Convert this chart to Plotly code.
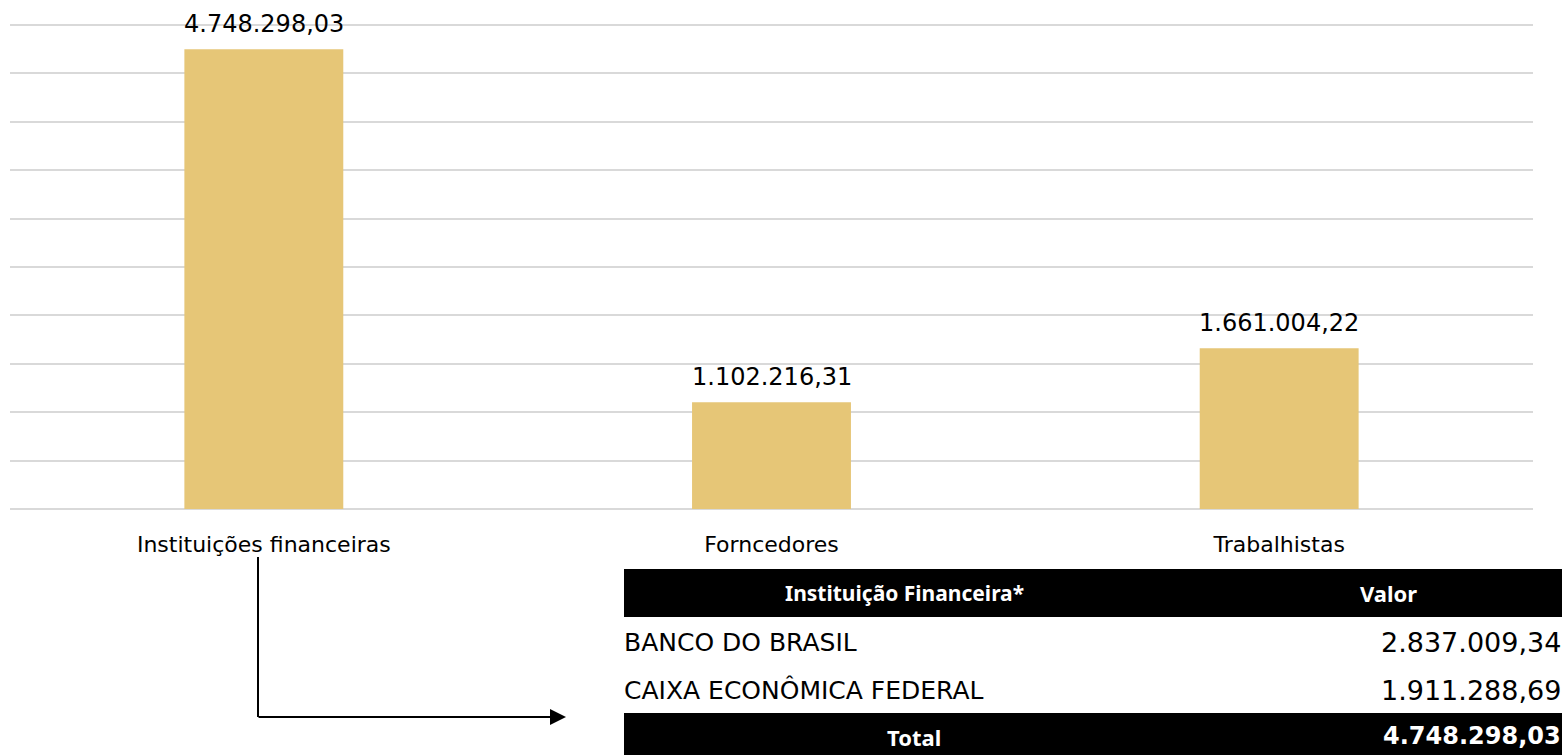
import plotly.graph_objects as go

# ---- data ----
categories = ["Instituições financeiras", "Forncedores", "Trabalhistas"]
values = [4748298.03, 1102216.31, 1661004.22]

table_header = ["Instituição Financeira*", "Valor"]
table_names = ["BANCO DO BRASIL", "CAIXA ECONÔMICA FEDERAL"]
table_values = [2837009.34, 1911288.69]
table_total_label = "Total"
table_total_value = 4748298.03


def fmt_br(v):
    s = f"{v:,.2f}"
    return s.replace(",", "X").replace(".", ",").replace("X", ".")


W, H = 1562, 755


def px(x):
    return x / W


def py(y):
    return 1 - y / H


NUM_FONT = "DejaVu Sans"
TXT_FONT = "DejaVu Sans"
HDR_FONT = "Noto Sans"
BAR_COLOR = "#E6C677"

# y scale: 0 at pixel 509, 5,000,000 at pixel 25; pad by 2px so edge gridlines show
Y0_PX, Y5_PX = 509, 25
per_px = 5000000 / (Y0_PX - Y5_PX)
pad = 2

fig = go.Figure()
fig.add_trace(go.Bar(
    x=categories, y=values, marker=dict(color=BAR_COLOR, line=dict(width=0)),
    hoverinfo="skip", showlegend=False,
))

annotations = []
for c, v in zip(categories, values):
    annotations.append(dict(
        x=c, y=v, xref="x", yref="y", text=fmt_br(v), showarrow=False,
        yanchor="bottom", yshift=9, font=dict(family=NUM_FONT, size=24, color="black"),
    ))

shapes = []
shapes.append(dict(type="rect", xref="paper", yref="paper",
                   x0=px(624), x1=px(1563), y0=py(617), y1=py(569),
                   fillcolor="black", line=dict(width=0), layer="above"))
shapes.append(dict(type="rect", xref="paper", yref="paper",
                   x0=px(624), x1=px(1563), y0=py(756), y1=py(713),
                   fillcolor="black", line=dict(width=0), layer="above"))
shapes.append(dict(type="line", xref="paper", yref="paper",
                   x0=px(258), x1=px(258), y0=py(557), y1=py(717),
                   line=dict(color="black", width=2)))

annotations.append(dict(
    x=px(566), y=py(717), xref="paper", yref="paper", text="",
    showarrow=True, ax=-(566 - 257), ay=0, axref="pixel", ayref="pixel",
    arrowhead=2, arrowsize=1.6, arrowwidth=2, arrowcolor="black",
))

annotations.append(dict(x=px(904), y=py(593), xref="paper", yref="paper",
                        text=f"<b>{table_header[0]}</b>", showarrow=False,
                        xanchor="center", yanchor="middle",
                        font=dict(family=HDR_FONT, size=21, color="white")))
annotations.append(dict(x=px(1388), y=py(593), xref="paper", yref="paper",
                        text=f"<b>{table_header[1]}</b>", showarrow=False,
                        xanchor="center", yanchor="middle",
                        font=dict(family=HDR_FONT, size=22, color="white")))
row_y = [642, 690]
for name, val, yy in zip(table_names, table_values, row_y):
    annotations.append(dict(x=px(622), y=py(yy), xref="paper", yref="paper",
                            text=name, showarrow=False, xanchor="left", yanchor="middle",
                            font=dict(family=TXT_FONT, size=25, color="black")))
    annotations.append(dict(x=px(1563), y=py(yy), xref="paper", yref="paper",
                            text=fmt_br(val), showarrow=False, xanchor="right", yanchor="middle",
                            font=dict(family=NUM_FONT, size=27, color="black")))
annotations.append(dict(x=px(914), y=py(737), xref="paper", yref="paper",
                        text=f"<b>{table_total_label}</b>", showarrow=False,
                        xanchor="center", yanchor="middle",
                        font=dict(family=HDR_FONT, size=22, color="white")))
annotations.append(dict(x=px(1563), y=py(736), xref="paper", yref="paper",
                        text=f"<b>{fmt_br(table_total_value)}</b>", showarrow=False,
                        xanchor="right", yanchor="middle",
                        font=dict(family=NUM_FONT, size=24, color="white")))

fig.update_layout(
    width=W, height=H,
    margin=dict(l=0, r=0, t=0, b=0),
    plot_bgcolor="white", paper_bgcolor="white",
    bargap=0.687,
    xaxis=dict(domain=[px(10), px(1533)], showgrid=False, zeroline=False, showline=False,
               ticks="outside", ticklen=14, tickcolor="rgba(0,0,0,0)",
               tickfont=dict(family=TXT_FONT, size=22, color="black")),
    yaxis=dict(domain=[py(Y0_PX + pad), py(Y5_PX - pad)],
               range=[-pad * per_px, 5000000 + pad * per_px], dtick=500000, tick0=0,
               showticklabels=False, showgrid=True, gridcolor="#D9D9D9", gridwidth=1.5,
               zeroline=False, showline=False),
    annotations=annotations, shapes=shapes,
)

fig.write_html(
    "out.html",
    config={"displayModeBar": False},
    post_script="document.body.style.margin='0';document.body.style.overflow='hidden';",
)
